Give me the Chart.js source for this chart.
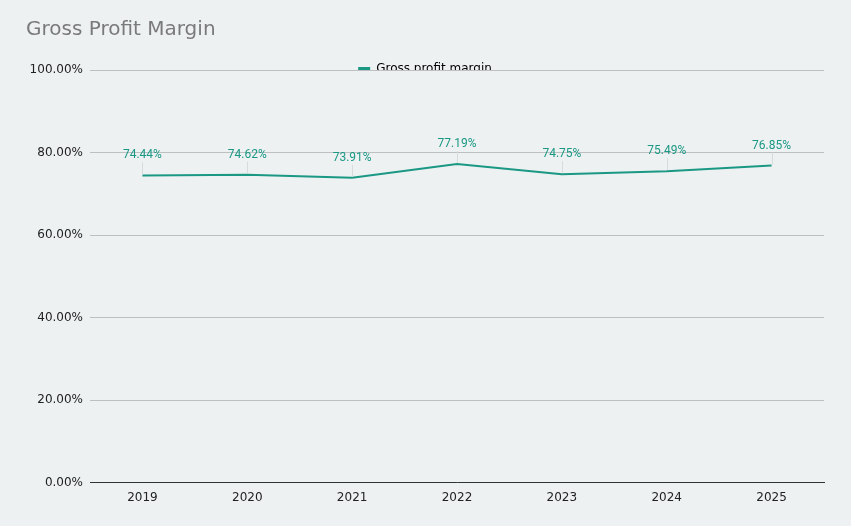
<!DOCTYPE html>
<html>
<head>
<meta charset="utf-8">
<script src="https://cdn.jsdelivr.net/npm/chart.js@4.4.0/dist/chart.umd.min.js"></script>
<style>
  html, body { margin: 0; padding: 0; background: #eef1f2; }
  #wrap { width: 851px; height: 526px; }
</style>
</head>
<body>
<div id="wrap"><canvas id="c"></canvas></div>
<script>
const categories = ['2019', '2020', '2021', '2022', '2023', '2024', '2025'];
const grossMargin = [74.44, 74.62, 73.91, 77.19, 74.75, 75.49, 76.85];
const yTicks = [0, 20, 40, 60, 80, 100];

const TEAL = '#1a9884';

const dataLabels = {
  id: 'dataLabels',
  afterDatasetsDraw(chart) {
    const ctx = chart.ctx;
    const meta = chart.getDatasetMeta(0);
    ctx.save();
    meta.data.forEach((pt, i) => {
      const ly = pt.y - 20;
      ctx.strokeStyle = '#d8dbdc';
      ctx.lineWidth = 1;
      ctx.beginPath();
      ctx.moveTo(Math.round(pt.x) + 0.5, ly + 7);
      ctx.lineTo(Math.round(pt.x) + 0.5, pt.y - 1);
      ctx.stroke();
      ctx.fillStyle = TEAL;
      ctx.font = '12px Roboto';
      ctx.textAlign = 'center';
      ctx.textBaseline = 'middle';
      ctx.fillText(grossMargin[i].toFixed(2) + '%', pt.x, ly);
    });
    ctx.restore();
  }
};

const bg = {
  id: 'bg',
  beforeDraw(chart) {
    const ctx = chart.ctx;
    ctx.save();
    ctx.fillStyle = '#eef1f2';
    ctx.fillRect(0, 0, chart.width, chart.height);
    ctx.restore();
  }
};

const legendFit = {
  id: 'legendFit',
  beforeInit(chart) {
    const orig = chart.legend.fit;
    chart.legend.fit = function () {
      orig.call(this);
      this.height = 17;
    };
  }
};

new Chart(document.getElementById('c'), {
  type: 'line',
  data: {
    labels: categories,
    datasets: [{
      label: 'Gross profit margin',
      data: grossMargin,
      borderColor: TEAL,
      backgroundColor: TEAL,
      borderWidth: 2,
      pointRadius: 0,
      tension: 0,
      fill: false
    }]
  },
  options: {
    responsive: true,
    maintainAspectRatio: false,
    animation: false,
    layout: { padding: { left: 26, right: 27, top: 0, bottom: 13 } },
    plugins: {
      title: {
        display: true,
        text: 'Gross Profit Margin',
        align: 'start',
        color: '#7a7a7a',
        font: { family: 'DejaVu Sans', size: 20, weight: 'normal' },
        padding: { top: 18, bottom: 11 }
      },
      legend: {
        display: true,
        position: 'top',
        align: 'center',
        labels: {
          boxWidth: 12,
          boxHeight: 4,
          color: '#333333',
          font: { family: 'DejaVu Sans', size: 12 },
          generateLabels(chart) {
            const ds = chart.data.datasets[0];
            return [{ text: ds.label, fillStyle: TEAL, strokeStyle: TEAL, lineWidth: 0, datasetIndex: 0 }];
          }
        }
      },
      tooltip: { enabled: false }
    },
    scales: {
      x: {
        offset: true,
        grid: { display: false, drawTicks: false },
        border: { display: true, color: '#333333', width: 1 },
        ticks: { color: '#222222', font: { family: 'DejaVu Sans', size: 12 }, padding: 8, maxRotation: 0 }
      },
      y: {
        min: 0,
        max: 100,
        afterFit(scale) { scale.width = 64; },
        afterBuildTicks(scale) { scale.ticks = yTicks.map(v => ({ value: v })); },
        grid: { color: '#bdbfc0', drawTicks: false },
        border: { display: false },
        ticks: {
          color: '#222222',
          font: { family: 'DejaVu Sans', size: 12 },
          padding: 7,
          callback: v => Number(v).toFixed(2) + '%'
        }
      }
    }
  },
  plugins: [bg, legendFit, dataLabels]
});
</script>
</body>
</html>
